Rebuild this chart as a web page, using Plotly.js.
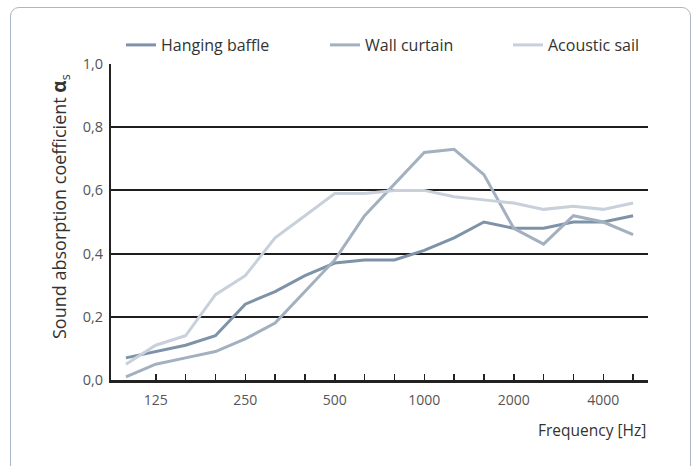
<!DOCTYPE html>
<html>
<head>
<meta charset="utf-8">
<script src="https://cdn.plot.ly/plotly-3.0.1.min.js"></script>
<style>
html,body{margin:0;padding:0;background:#fff;}
#wrap{position:relative;width:697px;height:466px;overflow:hidden;}
#frame{position:absolute;left:10px;top:7px;width:679px;height:480px;border:1px solid #aab7c6;border-radius:9px;pointer-events:none;}
#chart{position:absolute;left:0;top:0;width:697px;height:466px;}
</style>
</head>
<body>
<div id="wrap"><div id="chart"></div><div id="frame"></div></div>
<script>
const frequencies = ["100","125","160","200","250","315","400","500","630","800","1000","1250","1600","2000","2500","3150","4000","5000"];
const labelledFreqs = ["125","250","500","1000","2000","4000"];
const hangingBaffle = [0.07,0.09,0.11,0.14,0.24,0.28,0.33,0.37,0.38,0.38,0.41,0.45,0.50,0.48,0.48,0.50,0.50,0.52];
const wallCurtain   = [0.01,0.05,0.07,0.09,0.13,0.18,0.28,0.38,0.52,0.62,0.72,0.73,0.65,0.48,0.43,0.52,0.50,0.46];
const acousticSail  = [0.05,0.11,0.14,0.27,0.33,0.45,0.52,0.59,0.59,0.60,0.60,0.58,0.57,0.56,0.54,0.55,0.54,0.56];
const yTicks = [0,0.2,0.4,0.6,0.8,1.0];

const idx = frequencies.map((f,i)=>i);
const tickIdx = idx.slice(1);
const tickText = tickIdx.map(i => labelledFreqs.includes(frequencies[i]) ? frequencies[i] : "");

const FONT = "Open Sans, Noto Sans, sans-serif";
function tr(name, y, color, legend){
  return {x: idx, y: y, name: name, type:'scatter', mode:'lines',
    line:{color:color, width:3}, legend: legend, hoverinfo:'skip'};
}
const data = [
  tr("Hanging baffle", hangingBaffle, "#7e92a8", "legend"),
  tr("Wall curtain", wallCurtain, "#a2b0bf", "legend2"),
  tr("Acoustic sail", acousticSail, "#c8d0db", "legend3")
];
const W = 537, L = 111;
function lg(px){ return {x:(px-L)/W, y:(380-45)/316, xanchor:'left', yanchor:'middle', orientation:'h',
  font:{family:FONT,size:16,color:'#333'}, bgcolor:'rgba(0,0,0,0)', itemwidth:30, tracegroupgap:0}; }
const layout = {
  width:697, height:466,
  margin:{l:111, r:49, t:64, b:86},
  paper_bgcolor:'#fff', plot_bgcolor:'#fff',
  separators:',.',
  showlegend:true,
  legend: lg(121),
  legend2: lg(325),
  legend3: lg(508),
  xaxis:{
    range:[-0.5,17.5], tickmode:'array', tickvals:tickIdx, ticktext:tickText,
    ticks:'inside', ticklen:6, tickwidth:1.5, tickcolor:'#222',
    showgrid:false, zeroline:false, showline:true, linecolor:'#222', linewidth:2.5,
    ticklabelstandoff:6,
    tickfont:{family:FONT,size:14,color:'#555'}, fixedrange:true
  },
  yaxis:{
    range:[0,1.0], tickmode:'array', tickvals:yTicks, tickformat:'.1f',
    showgrid:true, gridcolor:'#1e1e1e', gridwidth:2, zeroline:false,
    showline:true, linecolor:'#222', linewidth:2,
    ticks:'', ticklabelstandoff:3,
    tickfont:{family:FONT,size:14.5,color:'#555'}, fixedrange:true
  },
  annotations:[
    {text:'Sound absorption coefficient <b><span style="font-size:19px">α</span></b><sub>s</sub>', xref:'paper', yref:'paper',
     x:(60-L)/W, y:(380-207)/316, xanchor:'center', yanchor:'middle', textangle:-90, showarrow:false,
     font:{family:FONT,size:18,color:'#333'}},
    {text:'Frequency [Hz]', xref:'paper', yref:'paper', x:1, y:-(430-380)/316, xanchor:'right', yanchor:'middle',
     showarrow:false, font:{family:FONT,size:15.5,color:'#333'}}
  ]
};
Plotly.newPlot('chart', data, layout, {displayModeBar:false, staticPlot:true});
</script>
</body>
</html>
